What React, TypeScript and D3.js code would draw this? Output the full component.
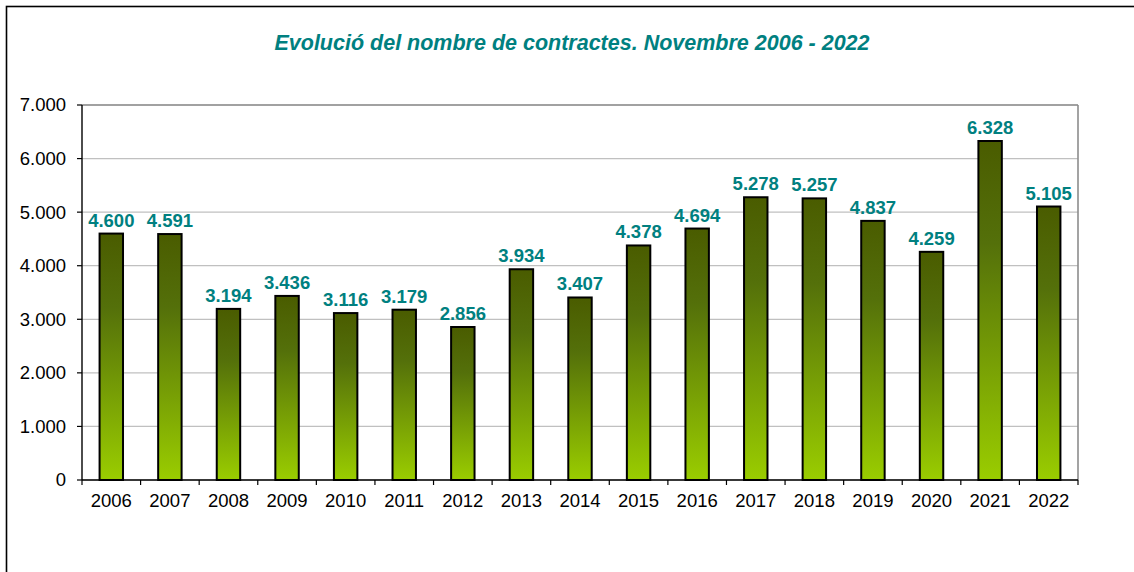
import { useMemo } from 'react'
import * as d3 from 'd3'

const W = 1134
const H = 572
const M = { top: 105, right: 56, bottom: 92, left: 82 }

const TITLE = 'Evolució del nombre de contractes. Novembre 2006 - 2022'
const YEARS = ['2006', '2007', '2008', '2009', '2010', '2011', '2012', '2013', '2014', '2015', '2016', '2017', '2018', '2019', '2020', '2021', '2022']
const CONTRACTS = [4600, 4591, 3194, 3436, 3116, 3179, 2856, 3934, 3407, 4378, 4694, 5278, 5257, 4837, 4259, 6328, 5105]
const Y_TICKS = [0, 1000, 2000, 3000, 4000, 5000, 6000, 7000]

const TEAL = '#008080'
const FONT = '"Liberation Sans", Arial, Helvetica, sans-serif'

// catalan number format: 4.600
const fmt = d3.formatLocale({ decimal: ',', thousands: '.', grouping: [3], currency: ['', ' €'] }).format(',d')

export default function App() {
  const x = useMemo(
    () => d3.scaleBand<string>().domain(YEARS).range([M.left, W - M.right]).paddingInner(0.6).paddingOuter(0.3),
    []
  )
  // boundaries between categories, for the little x ticks
  const step = (W - M.right - M.left) / YEARS.length
  const y = d3.scaleLinear().domain([0, 7000]).range([H - M.bottom, M.top])

  const x0 = M.left
  const x1 = W - M.right
  const yb = y(0)

  return (
    <svg
      width={W}
      height={H}
      style={{ position: 'fixed', left: 0, top: 0, display: 'block', background: '#fff' }}
      fontFamily={FONT}
    >
      <defs>
        <linearGradient id="barfill" x1="0" y1="0" x2="0" y2="1">
          <stop offset="0%" stopColor="#4a5c00" />
          <stop offset="30%" stopColor="#54700a" />
          <stop offset="100%" stopColor="#9acd00" />
        </linearGradient>
      </defs>

      {/* outer chart frame, runs off the right and bottom edge */}
      <rect x={6.5} y={6.5} width={W + 20} height={H + 20} fill="none" stroke="#000" strokeWidth={1.6} />

      <text x={572} y={50} textAnchor="middle" fill={TEAL} fontSize={21.5} fontWeight="bold" fontStyle="italic">
        {TITLE}
      </text>

      {/* grid */}
      {Y_TICKS.map((t) => (
        <line key={`g${t}`} x1={x0} x2={x1} y1={y(t)} y2={y(t)} stroke="#c0c0c0" strokeWidth={1.2} />
      ))}
      {/* plot area border top / right */}
      <line x1={x0} x2={x1} y1={y(7000)} y2={y(7000)} stroke="#8c8c8c" strokeWidth={1.6} />
      <line x1={x1} x2={x1} y1={y(7000)} y2={yb} stroke="#8c8c8c" strokeWidth={1.6} />

      {/* bars */}
      {CONTRACTS.map((v, i) => (
        <g key={YEARS[i]}>
          <rect
            x={x(YEARS[i])!}
            y={y(v)}
            width={x.bandwidth()}
            height={yb - y(v)}
            fill="url(#barfill)"
            stroke="#000"
            strokeWidth={2}
          />
          <text
            x={x(YEARS[i])! + x.bandwidth() / 2}
            y={y(v) - 7}
            textAnchor="middle"
            fill={TEAL}
            fontSize={18.5}
            fontWeight="bold"
          >
            {fmt(v)}
          </text>
        </g>
      ))}

      {/* y axis */}
      <line x1={x0} x2={x0} y1={y(7000)} y2={yb} stroke="#000" strokeWidth={1.4} />
      {Y_TICKS.map((t) => (
        <g key={`y${t}`}>
          <line x1={x0 - 5} x2={x0} y1={y(t)} y2={y(t)} stroke="#000" strokeWidth={1.2} />
          <text x={x0 - 16} y={y(t)} dy="0.35em" textAnchor="end" fontSize={18.5} fill="#000">
            {fmt(t)}
          </text>
        </g>
      ))}

      {/* x axis */}
      <line x1={x0} x2={x1} y1={yb} y2={yb} stroke="#000" strokeWidth={1.4} />
      {d3.range(YEARS.length + 1).map((i) => (
        <line key={`xt${i}`} x1={x0 + i * step} x2={x0 + i * step} y1={yb} y2={yb + 5} stroke="#000" strokeWidth={1.2} />
      ))}
      {YEARS.map((yr) => (
        <text key={`xl${yr}`} x={x(yr)! + x.bandwidth() / 2} y={yb + 27} textAnchor="middle" fontSize={18.5} fill="#000">
          {yr}
        </text>
      ))}
    </svg>
  )
}
